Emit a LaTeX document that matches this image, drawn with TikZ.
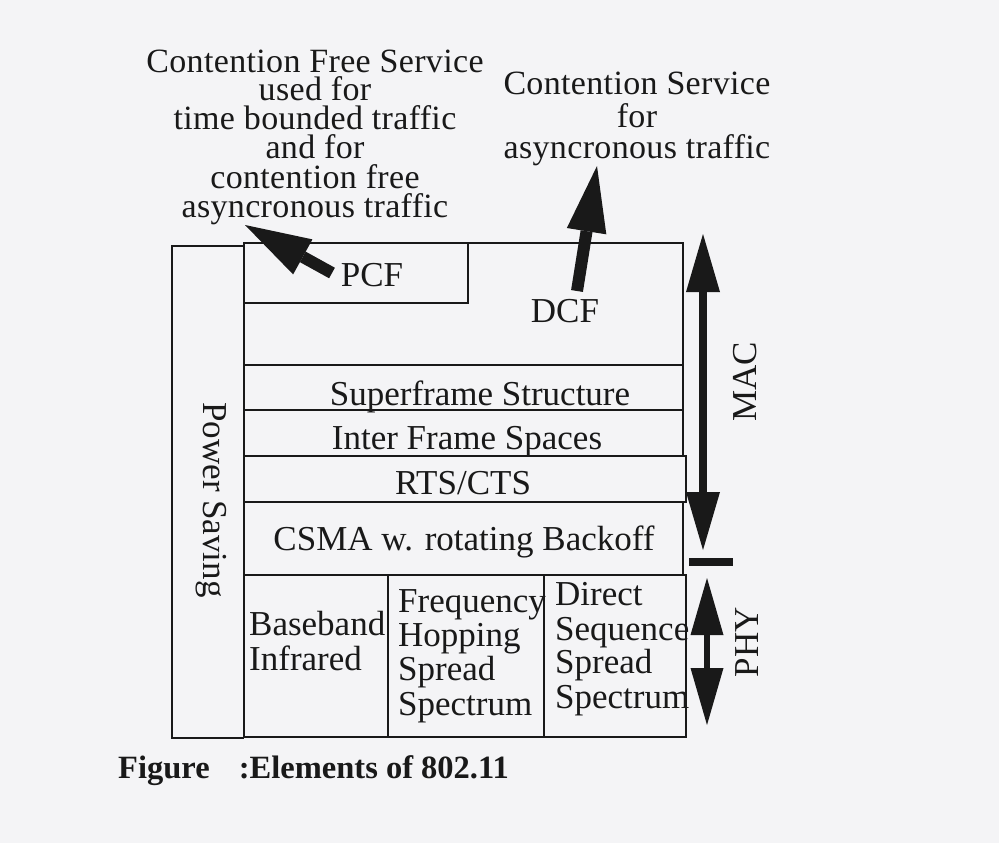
\documentclass[tikz,border=0pt]{standalone}
\usepackage{fontspec}
\setmainfont{Liberation Serif}
\newfontfamily\spacedfont[LetterSpace=1.0]{Liberation Serif}
\usetikzlibrary{arrows.meta}
\definecolor{paper}{RGB}{244,244,246}
\definecolor{ink}{RGB}{25,25,25}
\tikzset{
  frame/.style={draw=ink, line width=1.8pt},
  lbl/.style={font=\fontsize{35}{35}\selectfont, text=ink, inner sep=0pt, anchor=base},
  toptext/.style={font=\spacedfont\fontsize{34}{34}\selectfont, text=ink, inner sep=0pt, anchor=base, text height=0.62em, text depth=0.2em},
  captext/.style={font=\bfseries\fontsize{32.5}{32.5}\selectfont, text=ink, inner sep=0pt, anchor=base west},
  fatarrow/.style={draw=ink, line width=12pt, -{Triangle[length=66pt,width=40pt,line width=0pt]}},
}
\begin{document}
\begin{tikzpicture}[x=1pt,y=-1pt]
\useasboundingbox[fill=paper] (0,0) rectangle (999,843);

% Power Saving column
\draw[frame] (244,246) -- (172,246) -- (172,738) -- (244,738);
% MAC boxes
\draw[frame] (244,243) rectangle (683,365);
\draw[frame] (244,243) rectangle (468,303);
\draw[frame] (244,365) rectangle (683,410);
\draw[frame] (244,410) rectangle (683,456);
\draw[frame] (244,456) rectangle (686,502);
\draw[frame] (244,502) rectangle (683,575);
% PHY boxes
\draw[frame] (244,575) rectangle (686,737);
\draw[frame] (388,575) -- (388,737);
\draw[frame] (544,575) -- (544,737);

% Top texts
\foreach \t/\y [count=\i] in {Contention Free Service/73, used for/100.5, time bounded traffic/129, and for/158.5, contention free/188, asyncronous traffic/217}
  \node[toptext] (cf\i) at (315,\y) {\t};
\foreach \t/\y [count=\i] in {Contention Service/95, for/127, asyncronous traffic/158}
  \node[toptext] (cs\i) at (637,\y) {\t};

% Box labels
\node[lbl] (pcf) at (372,286) {PCF};
\node[lbl] (dcf) at (565,322) {DCF};
\node[lbl] (sfs) at (480,405) {Superframe Structure};
\node[lbl] (ifs) at (467,449) {Inter Frame Spaces};
\node[lbl] (rts) at (463,494) {RTS/CTS};
\node[lbl] (csma) at (464,550) {CSMA w. rotating Backoff};
\node[lbl, anchor=center, rotate=-90] (ps) at (211,500) {Power Saving};

\node[lbl, anchor=base west] (bb1) at (249,635) {Baseband};
\node[lbl, anchor=base west] (bb2) at (249,670) {Infrared};
\node[lbl, anchor=base west] (fh1) at (398,612) {Frequency};
\node[lbl, anchor=base west] (fh2) at (398,646) {Hopping};
\node[lbl, anchor=base west] (fh3) at (398,680) {Spread};
\node[lbl, anchor=base west] (fh4) at (398,715) {Spectrum};
\node[lbl, anchor=base west] (ds1) at (555,605) {Direct};
\node[lbl, anchor=base west] (ds2) at (555,640) {Sequence};
\node[lbl, anchor=base west] (ds3) at (555,673) {Spread};
\node[lbl, anchor=base west] (ds4) at (555,708) {Spectrum};

\node[lbl, anchor=center, rotate=90] (mac) at (745,382) {MAC};
\node[lbl, anchor=center, rotate=90] (phy) at (747,642) {PHY};

\node[captext] (caption) at (118,778) {Figure\hspace{0.9em}:Elements of 802.11};

% Arrows
\coordinate (pcftail) at (332,273);
\coordinate (pcftip) at (245,225);
\draw[fatarrow] (pcftail) -- (pcftip);
\coordinate (dcftail) at (577,291);
\coordinate (dcftip) at (597,166);
\draw[fatarrow] (dcftail) -- (dcftip);

\coordinate (mactop) at (703,234);
\coordinate (macbot) at (703,550);
\draw[draw=ink, line width=8pt, {Triangle[length=58pt,width=34pt,line width=0pt]}-{Triangle[length=58pt,width=34pt,line width=0pt]}] (macbot) -- (mactop);
\coordinate (sepl) at (689,562);
\coordinate (sepr) at (733,562);
\draw[draw=ink, line width=8pt] (sepl) -- (sepr);
\coordinate (phytop) at (707,578);
\coordinate (phybot) at (707,725);
\draw[draw=ink, line width=6pt, {Triangle[length=57pt,width=33pt,line width=0pt]}-{Triangle[length=57pt,width=33pt,line width=0pt]}] (phybot) -- (phytop);
\end{tikzpicture}
\end{document}
